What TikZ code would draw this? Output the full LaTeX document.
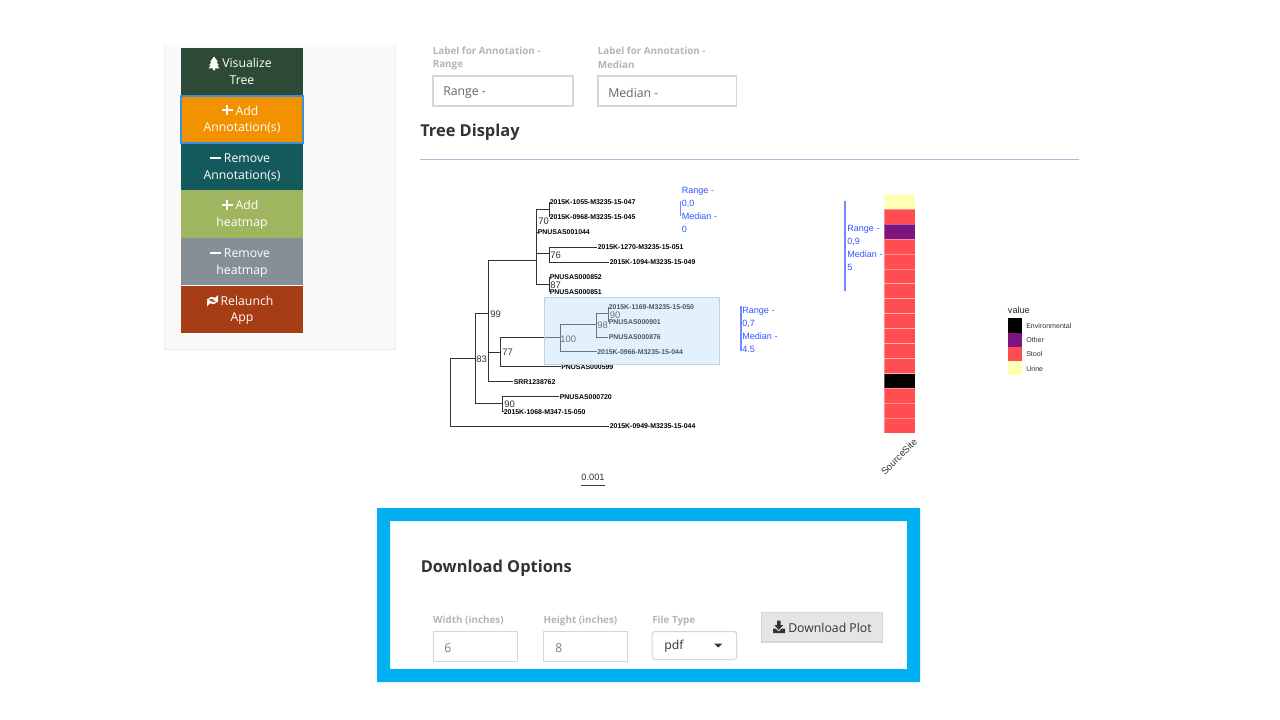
\documentclass[tikz,border=0pt]{standalone}
\usepackage{fontspec}
\setmainfont{Open Sans}
\newfontfamily\plotfont{Liberation Sans}
\definecolor{frameblue}{HTML}{00B0F0}
\definecolor{panelgray}{HTML}{F9F9F9}
\definecolor{paneledge}{HTML}{ECECEC}
\definecolor{btngreen}{HTML}{2D4A36}
\definecolor{btnorange}{HTML}{F39200}
\definecolor{btnteal}{HTML}{14595B}
\definecolor{btnolive}{HTML}{A0B560}
\definecolor{btngray}{HTML}{868E96}
\definecolor{btnbrown}{HTML}{A63D15}
\definecolor{glowblue}{HTML}{3F8FD8}
\definecolor{fieldedge}{HTML}{D6D6D6}
\definecolor{fieldtext}{HTML}{666666}
\definecolor{labelgray}{HTML}{B5B5B5}
\definecolor{headtext}{HTML}{333333}
\definecolor{ruleblue}{HTML}{A9C0D8}
\definecolor{annotblue}{HTML}{3355FF}
\definecolor{cladeblue}{HTML}{B9DCF8}
\definecolor{cladeedge}{HTML}{BCD3E6}
\definecolor{urinecol}{HTML}{FFFFB3}
\definecolor{stoolcol}{HTML}{FF4D52}
\definecolor{othercol}{HTML}{7D1580}
\definecolor{envcol}{HTML}{000000}
\tikzset{
	sidebtn/.style={minimum width=91.5pt, minimum height=35.6pt, inner sep=0, align=center, text=white,
		text height=24.8pt, text depth=6pt, font=\fontsize{9.2}{12.4}\selectfont},
	iconline/.style={white, line width=1.9pt},
	fieldbox/.style={draw=fieldedge, line width=1.1pt, fill=white, anchor=north west, inner sep=0},
	fieldlabel/.style={anchor=west, inner sep=0, text=labelgray, font=\fontsize{7.4}{9.9}\selectfont\bfseries},
	fieldtextstyle/.style={anchor=west, inner sep=0, text=fieldtext, font=\fontsize{9.2}{12}\selectfont},
	heading/.style={anchor=west, inner sep=0, text=headtext, font=\fontsize{12.3}{15}\selectfont\bfseries},
	branch/.style={draw=black!80, line width=0.55pt},
	tiplabel/.style={anchor=west, inner sep=0.4pt, font=\plotfont\fontsize{5.2}{6}\selectfont\bfseries},
	support/.style={anchor=west, inner sep=0, text=black!80, font=\plotfont\fontsize{7.1}{8}\selectfont},
	annot/.style={anchor=north west, inner sep=0, align=left, text=annotblue, font=\plotfont\fontsize{6.8}{9.8}\selectfont},
	annotbar/.style={draw=annotblue!70, line width=0.8pt},
	cell/.style={draw=white, draw opacity=0.35, line width=0.4pt},
	legendtext/.style={anchor=west, inner sep=0, text=black!80, font=\plotfont\fontsize{5.3}{6}\selectfont},
}
\begin{document}
\begin{tikzpicture}[x=0.75pt, y=-0.75pt]
	\useasboundingbox (0,0) rectangle (1280,720);
	\fill[white] (0,0) rectangle (1280,720);

	\fill[panelgray] (164,45) rectangle (395,349);
	\draw[paneledge] (164,45) -- (164,349) -- (395,349) -- (395,45);

	\node[sidebtn, fill=btngreen] (visualize) at (242,72) {\hspace*{7.5pt}Visualize\\Tree};
	\node[sidebtn, fill=btnteal] (removeannot) at (242,166.7) {\hspace*{7.5pt}Remove\\Annotation(s)};
	\node[sidebtn, fill=btnolive] (addheat) at (242,214) {\hspace*{7.5pt}Add\\heatmap};
	\node[sidebtn, fill=btngray] (removeheat) at (242,261.5) {\hspace*{7.5pt}Remove\\heatmap};
	\node[sidebtn, fill=btnbrown] (relaunch) at (242,309.3) {\hspace*{7.5pt}Relaunch\\App};
	\node[sidebtn, fill=btnorange, draw=glowblue, line width=1.6pt, minimum height=35pt] (addannot) at (242,119.3) {\hspace*{7.5pt}Add\\Annotation(s)};

	\fill[white] (214,56.5) -- (218,62) -- (216.4,62) -- (219,65.5) -- (217.3,65.5) -- (219.5,68.5) -- (215,68.5) -- (215,70.5) -- (213,70.5) -- (213,68.5) -- (208.5,68.5) -- (210.7,65.5) -- (209,65.5) -- (211.6,62) -- (210,62) -- cycle;
	\draw[iconline] (222,110) -- (232.5,110) (227.2,104.8) -- (227.2,115.2);
	\draw[iconline] (210,158) -- (221,158);
	\draw[iconline] (222,205) -- (232.5,205) (227.2,199.8) -- (227.2,210.2);
	\draw[iconline] (210,253) -- (221,253);
	\draw[white, line width=1.3pt] (207.5,299) arc (170:50:5.2);
	\draw[white, line width=1.3pt] (217.5,302) arc (-10:-130:5.2);
	\fill[white] (218,295) -- (218,300.5) -- (212.8,300.5) -- cycle;
	\fill[white] (207,306.5) -- (207,300.8) -- (212.2,300.8) -- cycle;

	\node[fieldlabel] (rangelabelA) at (432.5,51) {Label for Annotation -};
	\node[fieldlabel] (rangelabelB) at (432.5,65) {Range};
	\node[fieldlabel] (medianlabelA) at (597.5,51) {Label for Annotation -};
	\node[fieldlabel] (medianlabelB) at (597.5,65) {Median};
	\node[fieldbox, minimum width=105pt, minimum height=22.5pt] (rangefield) at (432.3,75.5) {};
	\node[fieldbox, minimum width=104pt, minimum height=22.5pt] (medianfield) at (597.3,75.5) {};
	\node[fieldtextstyle] (rangetext) at (443,92.5) {Range -};
	\node[fieldtextstyle] (mediantext) at (608,92.5) {Median -};
	\node[heading] (treehead) at (420,132.5) {Tree Display};
	\draw[ruleblue, line width=0.65pt] (420,159) -- (1079,159);

	\coordinate (root) at (450.7,358.3);
	\coordinate (n83) at (475.3,358.3);
	\coordinate (n99) at (488.7,313.3);
	\coordinate (ntop) at (536.7,260);
	\coordinate (n70) at (549,209);
	\coordinate (n76) at (549,253.5);
	\coordinate (n87) at (549,284);
	\coordinate (n77) at (500.7,352);
	\coordinate (n100) at (560.3,337.7);
	\coordinate (n98) at (596.3,324.3);
	\coordinate (n90a) at (608,313.3);
	\coordinate (n90b) at (502.7,403.3);

	\node[tiplabel] (t1055) at (549,202) {2015K-1055-M3235-15-047};
	\node[tiplabel] (t0968) at (549,217) {2015K-0968-M3235-15-045};
	\node[tiplabel] (t1044) at (537,232) {PNUSAS001044};
	\node[tiplabel] (t1270) at (597,247) {2015K-1270-M3235-15-051};
	\node[tiplabel] (t1094) at (609,262) {2015K-1094-M3235-15-049};
	\node[tiplabel] (t852) at (549,277) {PNUSAS000852};
	\node[tiplabel] (t851) at (549,292) {PNUSAS000851};
	\node[tiplabel] (t1169) at (608,307.2) {2015K-1169-M3235-15-050};
	\node[tiplabel] (t901) at (608,322) {PNUSAS000901};
	\node[tiplabel] (t876) at (608,337) {PNUSAS000876};
	\node[tiplabel] (t0966) at (596.5,351.8) {2015K-0966-M3235-15-044};
	\node[tiplabel] (t599) at (560.5,366.8) {PNUSAS000599};
	\node[tiplabel] (tsrr) at (513,381.8) {SRR1238762};
	\node[tiplabel] (t720) at (559,396.8) {PNUSAS000720};
	\node[tiplabel] (t1068) at (503,411.8) {2015K-1068-M347-15-050};
	\node[tiplabel] (t0949) at (609,426.5) {2015K-0949-M3235-15-044};

	\draw[branch] (root) |- (t0949.west);
	\draw[branch] (root) -- (n83);
	\draw[branch] (n83) |- (n99);
	\draw[branch] (n83) |- (n90b);
	\draw[branch] (n99) |- (ntop);
	\draw[branch] (n99) |- (n77);
	\draw[branch] (n99) |- (tsrr.west);
	\draw[branch] (ntop) |- (n70);
	\draw[branch] (ntop) |- (n76);
	\draw[branch] (ntop) |- (n87);
	\draw[branch] (ntop) |- (t1044.west);
	\draw[branch] (n70) |- (t1055.west);
	\draw[branch] (n70) |- (t0968.west);
	\draw[branch] (n76) |- (t1270.west);
	\draw[branch] (n76) |- (t1094.west);
	\draw[branch] (n87) |- (t852.west);
	\draw[branch] (n87) |- (t851.west);
	\draw[branch] (n77) |- (n100);
	\draw[branch] (n77) |- (t599.west);
	\draw[branch] (n100) |- (n98);
	\draw[branch] (n100) |- (t0966.west);
	\draw[branch] (n98) |- (n90a);
	\draw[branch] (n98) |- (t876.west);
	\draw[branch] (n90a) |- (t1169.west);
	\draw[branch] (n90a) |- (t901.west);
	\draw[branch] (n90b) |- (t720.west);
	\draw[branch] (n90b) |- (t1068.west);

	\node[support] (s70) at (538,221.5) {70};
	\node[support] (s76) at (550,255.5) {76};
	\node[support] (s87) at (550,285) {87};
	\node[support] (s99) at (490,314.5) {99};
	\node[support] (s90a) at (609.5,315) {90};
	\node[support] (s98) at (597,325.5) {98};
	\node[support] (s100) at (560,339) {100};
	\node[support] (s77) at (502,352.5) {77};
	\node[support] (s83) at (476,359.5) {83};
	\node[support] (s90b) at (504,404.5) {90};

	\fill[cladeblue, fill opacity=0.4] (544,297) rectangle (719,364);
	\draw[cladeedge] (544,297) rectangle (719,364);

	\draw[annotbar] (680.3,201) -- (680.3,216);
	\node[annot] (annotA) at (681.5,187) {Range -\\0,0\\Median -\\0};
	\draw[annotbar] (741,306) -- (741,351);
	\node[annot] (annotB) at (742,307) {Range -\\0,7\\Median -\\4.5};
	\draw[annotbar] (845,201) -- (845,291);
	\node[annot] (annotC) at (847,225) {Range -\\0,9\\Median -\\5};

	\foreach \cellcol [count=\cellnum from 0] in {urinecol,stoolcol,othercol,stoolcol,stoolcol,stoolcol,stoolcol,stoolcol,stoolcol,stoolcol,stoolcol,stoolcol,envcol,stoolcol,stoolcol,stoolcol}
		\fill[\cellcol, cell] (884,194+\cellnum*14.96) rectangle (915.3,194+\cellnum*14.96+14.96);
	\node[rotate=45, inner sep=0, text=black!80, font=\plotfont\fontsize{7.1}{8}\selectfont] (sitelabel) at (899,456.7) {SourceSite};

	\node[anchor=west, inner sep=0, font=\plotfont\fontsize{6.8}{8}\selectfont, text=black!85] (legendhead) at (1007.7,310) {value};
	\fill[envcol] (1008,318.3) rectangle (1022,332.5);
	\fill[othercol] (1008,332.5) rectangle (1022,346.7);
	\fill[stoolcol] (1008,346.7) rectangle (1022,360.9);
	\fill[urinecol] (1008,360.9) rectangle (1022,375);
	\node[legendtext] (legendenv) at (1026,325.8) {Environmental};
	\node[legendtext] (legendother) at (1026,340.1) {Other};
	\node[legendtext] (legendstool) at (1026,354.3) {Stool};
	\node[legendtext] (legendurine) at (1026,368.5) {Urine};

	\node[inner sep=0, text=black!80, font=\plotfont\fontsize{6.9}{8}\selectfont] (scaletext) at (593,477.5) {0.001};
	\draw[black!75, line width=0.75pt] (581,485.5) -- (605,485.5);

	\fill[frameblue, even odd rule] (377,508) rectangle (920,682) (390,521) rectangle (907,669);
	\node[heading] (downloadhead) at (420.5,568) {Download Options};
	\node[fieldlabel] (widthlabel) at (432.8,621) {Width (inches)};
	\node[fieldlabel] (heightlabel) at (543.3,621) {Height (inches)};
	\node[fieldlabel] (typelabel) at (652,621) {File Type};
	\node[fieldbox, minimum width=63pt, minimum height=22.5pt] (widthfield) at (432.8,631) {};
	\node[fieldbox, minimum width=63pt, minimum height=22.5pt] (heightfield) at (542.8,631) {};
	\node[fieldbox, rounded corners=2pt, line width=0.8pt, minimum width=63.4pt, minimum height=21pt] (typefield) at (651.6,631) {};
	\node[fieldtextstyle, text=fieldtext!85] (widthvalue) at (444,648.5) {6};
	\node[fieldtextstyle, text=fieldtext!85] (heightvalue) at (555,648.5) {8};
	\node[fieldtextstyle, text=headtext] (typevalue) at (664,646.5) {pdf};
	\fill[headtext] (714,643.5) -- (722.5,643.5) -- (718.2,647.5) -- cycle;
	\node[draw=fieldedge, fill=black!10, line width=0.9pt, inner sep=0, minimum width=90.4pt, minimum height=22pt, anchor=north west] (downloadbtn) at (761,612) {};
	\node[fieldtextstyle, text=headtext] (downloadtext) at (788,628) {Download Plot};
	\fill[headtext] (777,620.5) -- (780.5,620.5) -- (780.5,625) -- (783.3,625) -- (778.8,630) -- (774.3,625) -- (777,625) -- cycle;
	\fill[headtext] (773,628.5) -- (775.5,628.5) -- (778.8,631.5) -- (782,628.5) -- (785,628.5) -- (785,633) -- (773,633) -- cycle;
\end{tikzpicture}
\end{document}
